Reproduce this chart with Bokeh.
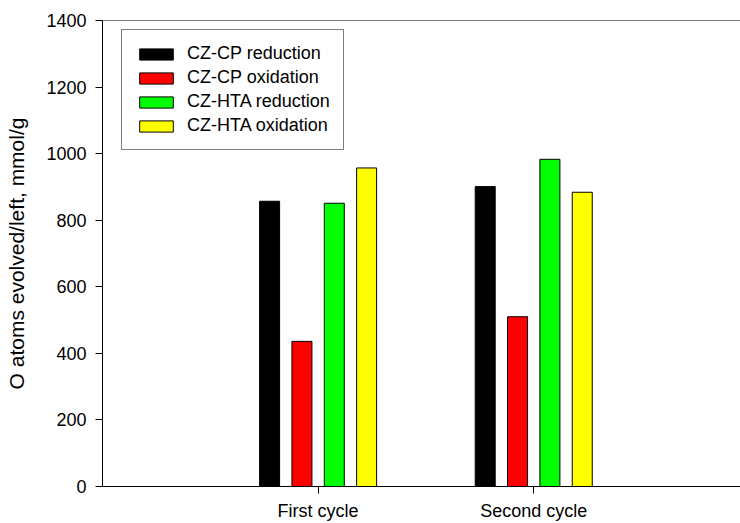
from bokeh.plotting import figure
from bokeh.models import ColumnDataSource, FixedTicker, Span, Legend, LegendItem, Range1d
from bokeh.transform import dodge
from bokeh.embed import file_html
from bokeh.resources import INLINE

cycles = ["First cycle", "Second cycle"]
cycle_pos = [1, 2]
series = ["CZ-CP reduction", "CZ-CP oxidation", "CZ-HTA reduction", "CZ-HTA oxidation"]
cz_cp_reduction = [857, 901]
cz_cp_oxidation = [436, 510]
cz_hta_reduction = [851, 983]
cz_hta_oxidation = [957, 884]
colors = ["#000000", "#FF0000", "#00FF00", "#FFFF00"]
offsets = [-0.225, -0.075, 0.075, 0.225]
y_ticks = [0, 200, 400, 600, 800, 1000, 1200, 1400]

FONT = "Liberation Sans"

src = ColumnDataSource(dict(
    x=cycle_pos,
    s0=cz_cp_reduction,
    s1=cz_cp_oxidation,
    s2=cz_hta_reduction,
    s3=cz_hta_oxidation,
))

p = figure(width=740, height=523,
           x_range=Range1d(0, 2.959), y_range=Range1d(0, 1400),
           output_backend="svg", toolbar_location=None,
           min_border_left=102, min_border_right=0,
           min_border_top=20, min_border_bottom=37)

p.outline_line_color = None
p.grid.visible = False
p.background_fill_color = "white"
p.border_fill_color = "white"

renderers = []
for i, name in enumerate(series):
    r = p.vbar(x=dodge("x", offsets[i], range=p.x_range), top="s%d" % i, width=0.0928,
               source=src, fill_color=colors[i], line_color="black", line_width=1)
    renderers.append(r)

# top frame line
p.add_layout(Span(location=1400, dimension="width", line_color="black", line_width=1))

xa = p.xaxis[0]
xa.ticker = FixedTicker(ticks=cycle_pos)
xa.major_label_overrides = {pos: lab for pos, lab in zip(cycle_pos, cycles)}
xa.minor_tick_line_color = None
xa.major_tick_in = 0
xa.major_tick_out = 7
xa.major_label_standoff = 7
xa.major_label_text_font = FONT
xa.major_label_text_font_size = "18px"
xa.major_label_text_color = "black"
xa.axis_line_color = "black"
xa.major_tick_line_color = "black"

ya = p.yaxis[0]
ya.ticker = FixedTicker(ticks=y_ticks)
ya.minor_tick_line_color = None
ya.major_tick_in = 0
ya.major_tick_out = 7
ya.major_label_standoff = 9
ya.major_label_text_font = FONT
ya.major_label_text_font_size = "18px"
ya.major_label_text_color = "black"
ya.axis_line_color = "black"
ya.major_tick_line_color = "black"
ya.axis_label = "O atoms evolved/left, mmol/g"
ya.axis_label_text_font = FONT
ya.axis_label_text_font_size = "21px"
ya.axis_label_text_font_style = "normal"
ya.axis_label_text_color = "black"
ya.axis_label_standoff = 15

legend = Legend(items=[LegendItem(label=series[i], renderers=[renderers[i]]) for i in range(4)],
                location=(19, 336))
legend.border_line_color = "black"
legend.border_line_width = 1
legend.background_fill_color = "white"
legend.background_fill_alpha = 1
legend.label_text_font = FONT
legend.label_text_font_size = "18px"
legend.label_text_color = "black"
legend.glyph_width = 42
legend.glyph_height = 14
legend.label_height = 20
legend.label_standoff = 10
legend.padding = 13
legend.spacing = 3
legend.margin = 0
p.add_layout(legend)

open("out.html", "w").write(file_html(p, INLINE))
